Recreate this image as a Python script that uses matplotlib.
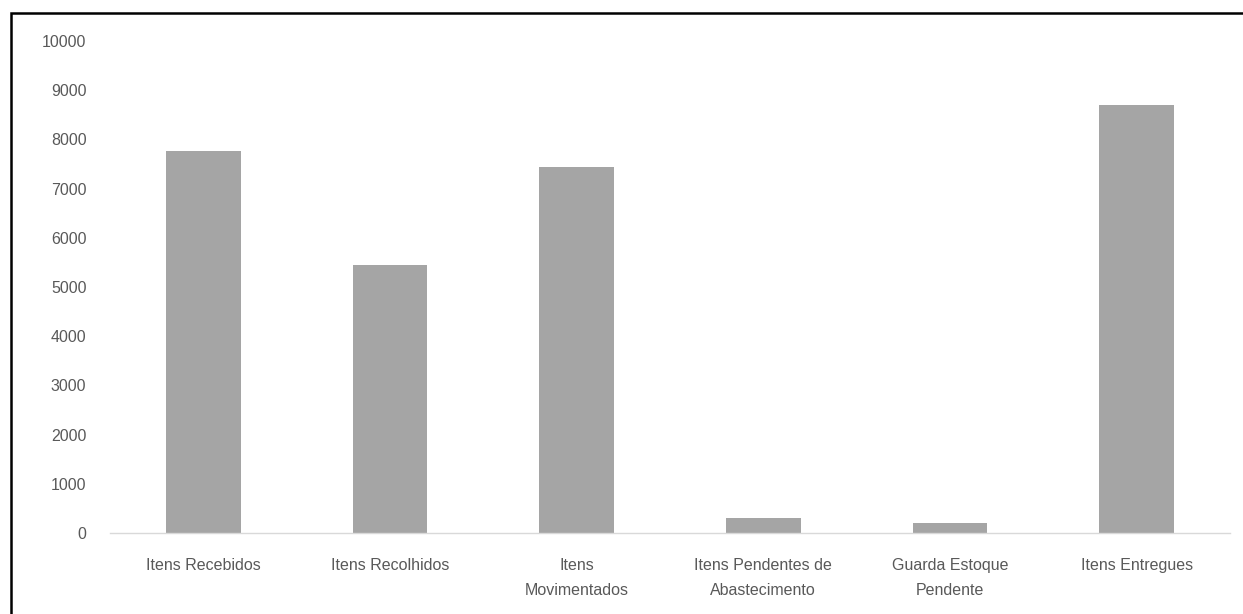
import matplotlib.pyplot as plt
from matplotlib.patches import Rectangle

# categories and values
categories = ["Itens Recebidos", "Itens Recolhidos", "Itens\nMovimentados",
              "Itens Pendentes de\nAbastecimento", "Guarda Estoque\nPendente",
              "Itens Entregues"]
values = [7760, 5450, 7440, 310, 200, 8690]
y_ticks = list(range(0, 10001, 1000))

plt.rcParams['font.family'] = ['Liberation Sans', 'DejaVu Sans']

W, H = 1243, 614
fig = plt.figure(figsize=(W / 100, H / 100), dpi=100)
ax = fig.add_axes([110 / W, 1 - 533 / H, 1120 / W, (533 - 41) / H])

x = range(len(categories))
ax.bar(x, values, width=0.4, color='#A5A5A5', zorder=2)

ax.set_xlim(-0.5, len(categories) - 0.5)
ax.set_ylim(0, 10000)
ax.set_yticks(y_ticks)
ax.set_yticklabels([str(t) for t in y_ticks])
ax.set_xticks(list(x))
ax.set_xticklabels(categories, linespacing=1.85)

for side in ['top', 'right', 'left']:
    ax.spines[side].set_visible(False)
ax.spines['bottom'].set_color('#D9D9D9')
ax.spines['bottom'].set_linewidth(1.0)

ax.tick_params(axis='y', length=0, pad=17, labelsize=11.5, labelcolor='#595959')
ax.tick_params(axis='x', length=0, pad=18, labelsize=11.5, labelcolor='#595959')

# black frame round the chart (only top and left edges show)
fig.patches.append(Rectangle((11 / W, -0.1), 1.2, 1 - 13 / H + 0.1,
                             transform=fig.transFigure, fill=False,
                             edgecolor='black', linewidth=1.8))

fig.savefig('out.png', dpi=100)
